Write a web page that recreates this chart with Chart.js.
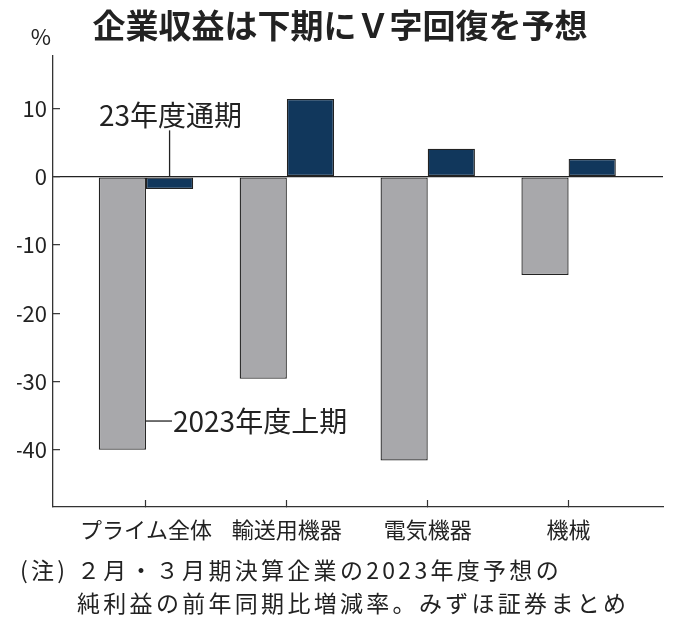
<!DOCTYPE html>
<html>
<head>
<meta charset="utf-8">
<script src="https://cdn.jsdelivr.net/npm/chart.js@4.4.1/dist/chart.umd.min.js"></script>
<style>
  html, body { margin: 0; padding: 0; background: #ffffff; }
  #wrap { width: 680px; height: 627px; position: relative; }
</style>
</head>
<body>
<div id="wrap"><canvas id="c" width="680" height="627"></canvas></div>
<script>
// ---- data ----
const categories = ['プライム全体', '輸送用機器', '電気機器', '機械'];
const firstHalf = [-40.0, -29.6, -41.6, -14.4];   // 2023年度上期
const fullYear  = [-1.8, 11.4, 4.1, 2.6];         // 23年度通期
const seriesNames = ['2023年度上期', '23年度通期'];
const yTickStep = 10;
const titleText = '企業収益は下期にＶ字回復を予想';
const unitText = '%';
const noteLines = ['(注) ２月・３月期決算企業の2023年度予想の', '純利益の前年同期比増減率。みずほ証券まとめ'];

const FONT = '"Noto Sans CJK JP", "Noto Sans CJK SC", sans-serif';
Chart.defaults.font.family = FONT;
Chart.defaults.color = '#222';

const toPoints = arr => arr.map((v, i) => ({ x: i, y: v }));

const annotationPlugin = {
  id: 'annotations',
  afterDatasetsDraw(chart) {
    const ctx = chart.ctx;
    const y = chart.scales.y;
    const barGray = chart.getDatasetMeta(0).data[0];
    const barBlue = chart.getDatasetMeta(1).data[0];
    ctx.save();
    ctx.strokeStyle = '#222';
    ctx.lineWidth = 1.3;
    ctx.fillStyle = '#222';
    ctx.font = '28px ' + FONT;
    // 23年度通期 callout
    ctx.beginPath();
    ctx.moveTo(barBlue.x, y.getPixelForValue(6.8));
    ctx.lineTo(barBlue.x, y.getPixelForValue(0));
    ctx.stroke();
    ctx.textAlign = 'center';
    ctx.textBaseline = 'middle';
    ctx.fillText(seriesNames[1], barBlue.x + 1, y.getPixelForValue(9.0));
    // 2023年度上期 callout
    const gx = barGray.x + barGray.width / 2;
    const gy = y.getPixelForValue(-35.8);
    ctx.beginPath();
    ctx.moveTo(gx, gy);
    ctx.lineTo(gx + 26, gy);
    ctx.stroke();
    ctx.textAlign = 'left';
    ctx.fillText(seriesNames[0], gx + 27, gy);
    ctx.restore();
  },
  afterDraw(chart) {
    const ctx = chart.ctx;
    const area = chart.chartArea;
    ctx.save();
    ctx.fillStyle = '#222';
    ctx.textBaseline = 'middle';
    // unit
    ctx.font = '22px ' + FONT;
    ctx.textAlign = 'center';
    ctx.fillText(unitText, area.left - 12, area.top - 19);
    // footnote
    ctx.font = '23px ' + FONT;
    ctx.textAlign = 'left';
    try { ctx.letterSpacing = '3.3px'; } catch (e) {}
    ctx.fillText(noteLines[0], 20, 570);
    ctx.fillText(noteLines[1], 77, 603);
    ctx.restore();
  }
};

new Chart(document.getElementById('c'), {
  type: 'bar',
  data: {
    datasets: [
      {
        label: seriesNames[0],
        data: toPoints(firstHalf),
        backgroundColor: '#a8a8ab',
        borderColor: '#222',
        borderWidth: 1.3,
        borderSkipped: false,
        categoryPercentage: 0.67,
        barPercentage: 1.0
      },
      {
        label: seriesNames[1],
        data: toPoints(fullYear),
        backgroundColor: '#11375c',
        borderColor: '#222',
        borderWidth: 1.3,
        borderSkipped: false,
        categoryPercentage: 0.67,
        barPercentage: 1.0
      }
    ]
  },
  options: {
    responsive: false,
    animation: false,
    devicePixelRatio: 1,
    layout: { padding: { left: 17, right: 17, top: 0, bottom: 80 } },
    plugins: {
      legend: { display: false },
      tooltip: { enabled: false },
      title: {
        display: true,
        text: titleText,
        color: '#222',
        font: { size: 33, weight: 'bold', family: FONT, lineHeight: 1.2 },
        padding: { top: 6, bottom: 10.4 }
      }
    },
    scales: {
      x: {
        type: 'linear',
        min: -0.66,
        max: 3.67,
        offset: false,
        afterBuildTicks: s => { s.ticks = categories.map((_, i) => ({ value: i })); },
        afterFit: s => { s.height = 40; },
        ticks: {
          callback: v => categories[v],
          autoSkip: false,
          maxRotation: 0,
          minRotation: 0,
          padding: 16,
          color: '#222',
          font: { size: 22 }
        },
        grid: {
          offset: false,
          drawOnChartArea: false,
          tickLength: -7,
          tickColor: '#333',
          tickWidth: 1.2
        },
        border: { color: '#333', width: 1.3 }
      },
      y: {
        min: -48.4,
        max: 17.7,
        afterFit: s => { s.width = 36; },
        ticks: {
          stepSize: yTickStep,
          includeBounds: false,
          padding: 13,
          color: '#222',
          font: { size: 22 }
        },
        grid: {
          color: c => (c.tick && c.tick.value === 0) ? '#222' : 'rgba(0,0,0,0)',
          lineWidth: 1.3,
          tickLength: -7,
          tickColor: '#333',
          tickWidth: 1.2
        },
        border: { color: '#333', width: 1.3 }
      }
    }
  },
  plugins: [annotationPlugin]
});
</script>
</body>
</html>
